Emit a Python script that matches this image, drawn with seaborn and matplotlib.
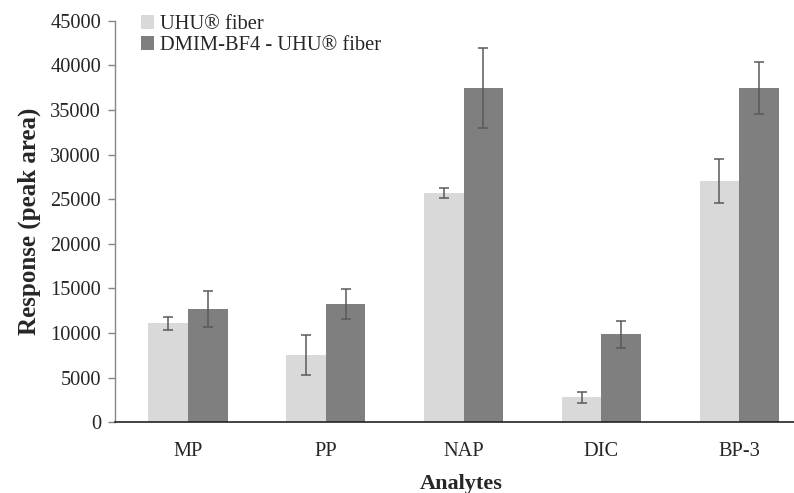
import matplotlib
matplotlib.use("Agg")
import matplotlib.pyplot as plt
import seaborn as sns
import pandas as pd
import numpy as np

categories = ["MP", "PP", "NAP", "DIC", "BP-3"]
series = ["UHU® fiber", "DMIM-BF4 - UHU® fiber"]
uhu_values = [11100, 7550, 25650, 2800, 27050]
uhu_errors = [730, 2250, 550, 640, 2430]
dmim_values = [12700, 13300, 37450, 9850, 37450]
dmim_errors = [2000, 1680, 4500, 1530, 2930]
yticks = [0, 5000, 10000, 15000, 20000, 25000, 30000, 35000, 40000, 45000]

colors = ["#d9d9d9", "#7f7f7f"]

df = pd.DataFrame({
    "Analyte": categories * 2,
    "Series": [series[0]] * len(categories) + [series[1]] * len(categories),
    "Value": uhu_values + dmim_values,
    "Err": uhu_errors + dmim_errors,
})

sns.set_style("white")
plt.rcParams["font.family"] = ["Liberation Serif", "DejaVu Serif"]

fig = plt.figure(figsize=(7.94, 4.93), dpi=100)
ax = fig.add_axes([115 / 794, 1 - 422.3 / 493, 693 / 794, 401.6 / 493])

sns.barplot(data=df, x="Analyte", y="Value", hue="Series", order=categories,
            hue_order=series, palette=colors, errorbar=None, width=0.575,
            saturation=1, ax=ax, edgecolor="none")

# error bars positioned from the drawn bars
errs = {s: dict(zip(categories, e)) for s, e in zip(series, [uhu_errors, dmim_errors])}
vals = {s: dict(zip(categories, v)) for s, v in zip(series, [uhu_values, dmim_values])}
for container, s in zip(ax.containers, series):
    xs = [p.get_x() + p.get_width() / 2 for p in container.patches]
    ys = [vals[s][c] for c in categories]
    es = [errs[s][c] for c in categories]
    ax.errorbar(xs, ys, yerr=es, fmt="none", ecolor="#5a5a5a", elinewidth=1.1,
                capsize=3.5, capthick=1.1, zorder=5)

ax.set_xlim(-0.53, 4.5)
ax.set_ylim(0, 45000)
ax.set_yticks(yticks)
ax.set_yticklabels([str(t) for t in yticks], fontsize=14.7)
ax.tick_params(axis="y", left=True, length=5, width=1, color="#868686", pad=5)
ax.tick_params(axis="x", bottom=False, pad=11, labelsize=14.7)

for side in ["top", "right"]:
    ax.spines[side].set_visible(False)
ax.spines["left"].set_color("#868686")
ax.spines["left"].set_linewidth(1)
ax.spines["bottom"].set_color("#222222")
ax.spines["bottom"].set_linewidth(1.2)

ax.set_xlabel("Analytes", fontsize=16, fontweight="bold", labelpad=9)
ax.set_ylabel("Response (peak area)", fontsize=18, fontweight="bold", labelpad=7)

leg = ax.legend(loc="upper left", bbox_to_anchor=(0.025, 1.035), frameon=False,
                fontsize=14.8, handlelength=0.65, handleheight=0.65,
                handletextpad=0.3, labelspacing=0.1, borderaxespad=0)

fig.savefig("out.png", dpi=100)
